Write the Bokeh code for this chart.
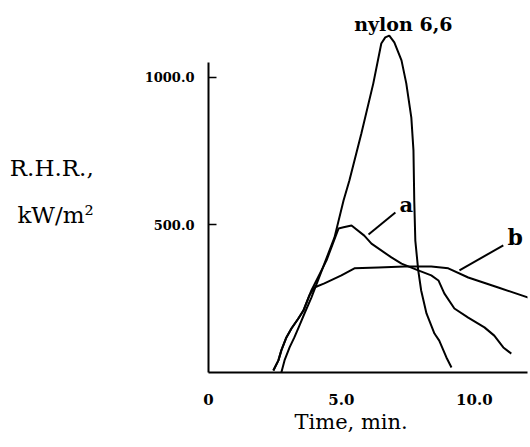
from bokeh.plotting import figure
from bokeh.models import Range1d, FixedTicker, Label, Segment, ColumnDataSource, Title
from bokeh.embed import file_html
from bokeh.resources import INLINE

# Data (time in min, rate of heat release in kW/m^2)
nylon_t = [2.74, 2.86, 3.05, 3.23, 3.42, 3.61, 3.87, 4.74, 5.08, 5.30, 5.75, 6.20, 6.50, 6.65, 6.80,
           6.99, 7.26, 7.44, 7.63, 7.71, 7.74, 7.78, 7.89, 8.00, 8.20, 8.50, 8.68, 8.95, 9.14]
nylon_y = [0, 41, 85, 119, 159, 200, 254, 458, 583, 651, 810, 980, 1115, 1136, 1142,
           1119, 1058, 980, 864, 753, 583, 447, 346, 278, 200, 132, 108, 51, 17]

a_t = [2.44, 2.63, 2.74, 2.93, 3.12, 3.38, 3.57, 3.87, 4.44, 4.89, 5.08, 5.38, 5.86, 6.13, 6.88,
       7.26, 7.89, 8.38, 8.65, 8.87, 9.25, 9.77, 10.38, 10.75, 11.09, 11.39]
a_y = [7, 41, 75, 119, 149, 183, 210, 278, 380, 488, 492, 498, 464, 437, 390,
       369, 346, 329, 312, 268, 217, 186, 153, 125, 85, 64]

b_t = [2.44, 2.63, 2.74, 2.93, 3.12, 3.38, 3.57, 3.80, 3.98, 4.36, 5.00, 5.49, 6.39, 7.37, 8.38,
       9.02, 9.77, 10.90, 12.03]
b_y = [7, 41, 75, 119, 149, 183, 210, 262, 288, 302, 329, 353, 356, 359, 359,
       353, 322, 288, 254]

x_ticks = [0, 5, 10]
x_tick_labels = ["0", "5.0", "10.0"]
y_ticks = [500, 1000]
y_tick_labels = ["500.0", "1000.0"]

# leader lines for the curve labels (data coords)
lead_x0 = [7.03, 11.09]
lead_y0 = [542, 431]
lead_x1 = [6.02, 9.44]
lead_y1 = [468, 346]

serif = "DejaVu Serif"

p = figure(width=530, height=447, output_backend="svg", toolbar_location=None,
           x_range=Range1d(0, 12.0), y_range=Range1d(0, 1227),
           min_border_left=208, min_border_right=3, min_border_top=10, min_border_bottom=75)
p.outline_line_color = None
p.xgrid.visible = False
p.ygrid.visible = False
p.background_fill_color = "white"
p.border_fill_color = "white"

for ax in (p.xaxis[0], p.yaxis[0]):
    ax.axis_line_width = 2
    ax.axis_line_color = "black"
    ax.minor_tick_line_color = None
    ax.major_label_text_font = serif
    ax.major_label_text_font_style = "bold"
    ax.major_label_text_color = "black"

p.xaxis[0].ticker = FixedTicker(ticks=x_ticks)
p.xaxis[0].major_label_overrides = {t: l for t, l in zip(x_ticks, x_tick_labels)}
p.xaxis[0].major_tick_line_color = None
p.xaxis[0].major_label_standoff = 15
p.xaxis[0].major_label_text_font_size = "15px"

p.yaxis[0].ticker = FixedTicker(ticks=y_ticks)
p.yaxis[0].major_label_overrides = {t: l for t, l in zip(y_ticks, y_tick_labels)}
p.yaxis[0].major_tick_in = 8
p.yaxis[0].major_tick_out = 0
p.yaxis[0].major_tick_line_width = 1.5
p.yaxis[0].major_label_standoff = 14
p.yaxis[0].major_label_text_font_size = "13px"
p.yaxis[0].bounds = (0, 1050)
p.yaxis[0].axis_label = "R.H.R.,\nkW/m\u00b2"
p.yaxis[0].axis_label_orientation = "horizontal"
p.yaxis[0].axis_label_standoff = 48
p.yaxis[0].axis_label_text_font = serif
p.yaxis[0].axis_label_text_font_size = "23px"
p.yaxis[0].axis_label_text_line_height = 1.8
p.yaxis[0].axis_label_text_font_style = "normal"
p.yaxis[0].axis_label_text_color = "black"

p.add_layout(Title(text="Time, min.", align="left", offset=86, standoff=0,
                   text_font=serif, text_font_size="21px", text_font_style="normal",
                   text_color="black"), "below")

p.line(nylon_t, nylon_y, line_color="black", line_width=2)
p.line(a_t, a_y, line_color="black", line_width=2)
p.line(b_t, b_y, line_color="black", line_width=2)

src = ColumnDataSource(dict(x0=lead_x0, y0=lead_y0, x1=lead_x1, y1=lead_y1))
p.add_glyph(src, Segment(x0="x0", y0="y0", x1="x1", y1="y1", line_color="black", line_width=2))

def lab(x, y, text, size):
    p.add_layout(Label(x=x, y=y, text=text, text_font=serif, text_font_size=size,
                       text_font_style="bold", text_align="center", text_baseline="alphabetic",
                       text_color="black"))

lab(7.33, 1182, "nylon 6,6", "19px")
lab(7.44, 570, "a", "21px")
lab(11.54, 460, "b", "22px")

open("out.html", "w").write(file_html(p, INLINE))
